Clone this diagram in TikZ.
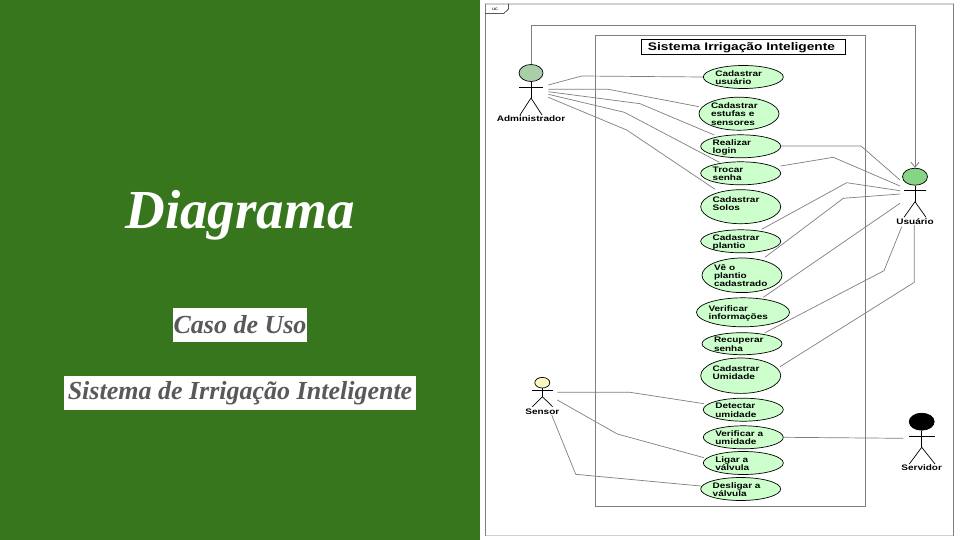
\documentclass[tikz,border=0pt]{standalone}
\usepackage{fontspec}
\setmainfont{Liberation Serif}
\newfontfamily\umlfont[FakeStretch=1.25]{Liberation Sans}
\usetikzlibrary{arrows.meta,shapes.geometric}
\definecolor{slidegreen}{HTML}{38761D}
\definecolor{slidegray}{HTML}{595959}
\definecolor{ucfill}{HTML}{CCFFCC}
\definecolor{wire}{HTML}{7F7F7F}
\definecolor{admhead}{HTML}{A9CFA9}
\definecolor{usrhead}{HTML}{86D486}
\definecolor{senhead}{HTML}{FBF7C0}
\tikzset{
  usecase/.style={draw=black,fill=ucfill,ellipse,inner sep=0pt,line width=0.7pt},
  wirel/.style={draw=wire,line width=0.7pt},
  stick/.style={draw=black,line width=0.7pt},
  actorhead/.style={draw=black,ellipse,inner sep=0pt,line width=0.7pt},
  actorlabel/.style={inner sep=0pt,font=\umlfont\bfseries\fontsize{8}{9}\selectfont},
  slidetag/.style={fill=white,inner sep=0pt,text=slidegray,font=\bfseries\itshape\fontsize{26}{30}\selectfont}
}
% name, x, y, rx, ry, raise, text
\newcommand{\ucnode}[7]{%
  \node[usecase,minimum width=#4*2pt,minimum height=#5*2pt] (#1) at (#2,#3) {%
    \smash{\makebox[0pt][l]{\hspace*{\dimexpr12pt-#4pt\relax}\raisebox{\dimexpr#6pt-3.6pt\relax}{\umlfont\bfseries\fontsize{8}{8.35}\selectfont\begin{tabular}[c]{@{}l@{}}#7\end{tabular}}}}};}
% name, x, heady, rx, ry, fill, army, armhalf, bodyend
\newcommand{\stickman}[9]{%
  \node[actorhead,fill=#6,minimum width=#4*2pt,minimum height=#5*2pt] (#1) at (#2,#3) {};
  \draw[stick] (#1.south) -- (#2,#9);
  \draw[stick] (#2-#8,#7) -- (#2+#8,#7);
  \coordinate (#1-hip) at (#2,#9);}
\begin{document}
\begin{tikzpicture}[x=1pt,y=-1pt]
\useasboundingbox (0,0) rectangle (960,540);
\fill[white] (0,0) rectangle (960,540);
\fill[slidegreen] (0,0) rectangle (480,540);
% left slide texts
\node[inner sep=0pt,anchor=base,text=white,font=\bfseries\itshape\fontsize{55}{62}\selectfont] (title) at (240,228) {Diagrama};
\node[slidetag,minimum width=134.5pt,minimum height=33.5pt] (casouso) at (240,324.8) {Caso de Uso};
\node[slidetag,minimum width=351.5pt,minimum height=33.5pt] (sistema) at (240,392.8) {Sistema de Irrigação Inteligente};
% frame
\draw[draw=black!18,line width=1.4pt] (485,4) -- (954,4);
\draw[draw=black!18,line width=1.4pt] (485,535.6) -- (954,535.6);
\draw[wire,line width=0.8pt] (485.3,4) -- (485.3,535.6);
\draw[wire,line width=0.8pt] (953.7,4) -- (953.7,535.6);
\draw[stick,line width=0.5pt] (485.3,13.3) -- (504,13.3) -- (508.5,9) -- (508.5,4);
\node[inner sep=0pt,font=\umlfont\fontsize{4.5}{5}\selectfont] (uc) at (495,9) {uc};
% system
\draw[wirel] (595.5,35.5) rectangle (865.3,506);
\node[draw=black,line width=0.8pt,fill=white,minimum width=204pt,minimum height=14.5pt,inner sep=0pt,font=\umlfont\bfseries\fontsize{11}{12}\selectfont] (systitle) at (743,47) {\hspace*{-3pt}\raisebox{-4pt}[0pt][0pt]{Sistema Irrigação Inteligente}};
% use cases
\ucnode{cu}{743.3}{77}{40}{11.5}{0}{Cadastrar\\usuário}
\ucnode{ce}{739}{113.7}{40}{16.5}{0}{Cadastrar\\estufas e\\sensores}
\ucnode{rl}{740.7}{146.3}{40}{11.5}{0}{Realizar\\login}
\ucnode{ts}{740.7}{173.3}{40}{11.5}{0}{Trocar\\senha}
\ucnode{cs}{740.7}{206.7}{40}{17}{3.7}{Cadastrar\\Solos}
\ucnode{cp}{740.7}{241.3}{40}{11.5}{0}{Cadastrar\\plantio}
\ucnode{vp}{742}{275.3}{40}{17.3}{0}{Vê o\\plantio\\cadastrado}
\ucnode{vi}{743}{312.3}{46.5}{14.5}{0}{Verificar\\informações}
\ucnode{rs}{742}{343.7}{40}{11}{0}{Recuperar\\senha}
\ucnode{cm}{740.7}{375.7}{40}{17.7}{3.7}{Cadastrar\\Umidade}
\ucnode{du}{743.3}{409.7}{40}{11.5}{0}{Detectar\\umidade}
\ucnode{vu}{743.3}{437.3}{40}{11.5}{0}{Verificar a\\umidade}
\ucnode{lv}{743.3}{463}{40}{11.5}{0}{Ligar a\\válvula}
\ucnode{dv}{740.7}{489}{40}{11.5}{0}{Desligar a\\válvula}
% actors
\stickman{adm}{531}{73}{12}{8.5}{admhead}{87}{12}{98}
\draw[stick] (adm-hip) -- (520,115);
\draw[stick] (adm-hip) -- (542,115);
\node[actorlabel] (admt) at (531,119) {Administrador};
\stickman{usr}{915}{176.7}{12.5}{8.5}{usrhead}{190}{11}{201.7}
\draw[stick] (usr-hip) -- (904,217.3);
\draw[stick] (usr-hip) -- (926,217.3);
\node[actorlabel] (usrt) at (915,221.7) {Usuário};
\stickman{sen}{542.3}{382.7}{7.5}{5.3}{senhead}{390}{10.2}{396.7}
\draw[stick] (sen-hip) -- (532.3,406.7);
\draw[stick] (sen-hip) -- (552.7,406.7);
\node[actorlabel] (sent) at (542.3,411.3) {Sensor};
\stickman{srv}{921.7}{421.7}{12.5}{8.5}{black}{436}{12.8}{447.3}
\draw[stick] (srv-hip) -- (909.3,464);
\draw[stick] (srv-hip) -- (935,464);
\node[actorlabel] (srvt) at (921.7,467.7) {Servidor};
% administrator links
\draw[wirel] ([shift={(17.3,12)}]adm.center) -- (581.7,76) -- (cu.west);
\draw[wirel] ([shift={(17.3,16.3)}]adm.center) -- (608.3,89.3) -- ([shift={(-40,-7)}]ce.center);
\draw[wirel] ([shift={(17.3,18.7)}]adm.center) -- (640,103.7) -- ([shift={(-26.4,-11.3)}]rl.center);
\draw[wirel] ([shift={(17.3,21.3)}]adm.center) -- (624.3,112.3) -- ([shift={(-21.4,-11)}]ts.center);
\draw[wirel] ([shift={(17.3,24.3)}]adm.center) -- (626.7,130) -- ([shift={(-25.7,-17.4)}]cs.center);
\draw[wire,line width=0.8pt,-{Straight Barb[length=5pt,width=8pt]}] (adm.north) -- (531,25) -- (915,25) -- (usr.north);
% user links
\draw[wirel] ([shift={(40,-0.3)}]rl.center) -- (861,146) -- ([shift={(-15,3.3)}]usr.center);
\draw[wirel] ([shift={(40,-7.3)}]ts.center) -- (833.3,157.3) -- ([shift={(-15,9.3)}]usr.center);
\draw[wirel] ([shift={(21,-12)}]cp.center) -- (846.7,182.7) -- ([shift={(-15,14)}]usr.center);
\draw[wirel] ([shift={(23,-18)}]vp.center) -- (843.3,198.3) -- ([shift={(-15,17.3)}]usr.center);
\draw[wirel] ([shift={(20.3,-15)}]vi.center) -- ([shift={(-15,26.6)}]usr.center);
\draw[wirel] ([shift={(23,-11)}]rs.center) -- (884,270.7) -- ([shift={(-13.3,50)}]usr.center);
\draw[wirel] ([shift={(39.3,-9)}]cm.center) -- (914.3,282.3) -- ([shift={(-0.7,48.3)}]usr.center);
% sensor links
\draw[wirel] ([shift={(15,9.6)}]sen.center) -- (630,392.3) -- ([shift={(-39.3,-6)}]du.center);
\draw[wirel] ([shift={(15,17.3)}]sen.center) -- (617.3,434) -- ([shift={(-39.3,-5.3)}]lv.center);
\draw[wirel] ([shift={(9.4,32.3)}]sen.center) -- (575.7,474.3) -- ([shift={(-40,-3)}]dv.center);
% server link
\draw[wirel] (vu.east) -- ([shift={(-18.4,16.6)}]srv.center);
\end{tikzpicture}
\end{document}
